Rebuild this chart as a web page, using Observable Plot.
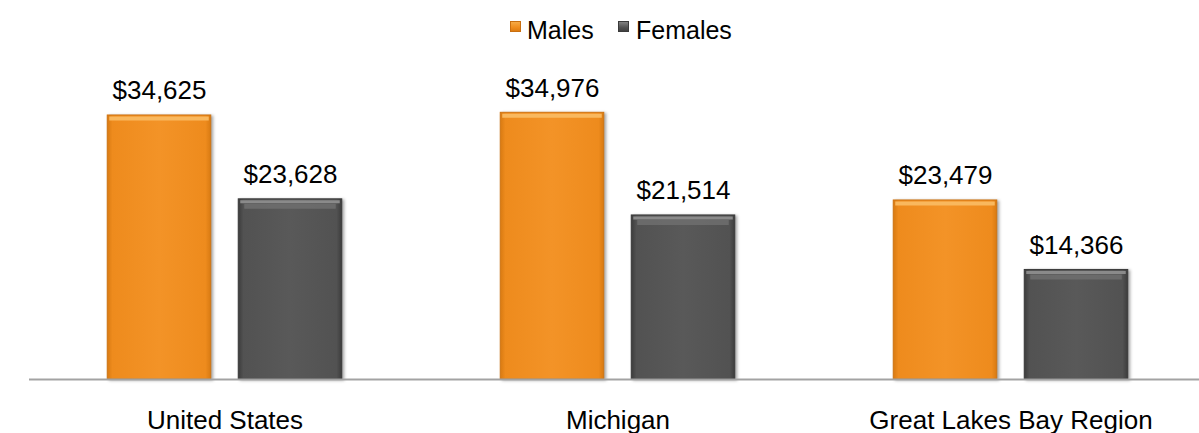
<!DOCTYPE html>
<html>
<head>
<meta charset="utf-8">
<script src="https://cdn.jsdelivr.net/npm/d3@7"></script>
<script src="https://cdn.jsdelivr.net/npm/@observablehq/plot@0.6"></script>
<style>
  body { margin: 0; background: #fff; font-family: "Liberation Sans", Arial, Helvetica, sans-serif; }
  #legend { position: relative; height: 50px; width: 1199px; }
  #legend .sw { position: absolute; width: 11px; height: 11px; top: 21px; }
  #legend .lb { position: absolute; top: 18px; font-size: 25px; line-height: 25px; color: #000; white-space: nowrap; }
  svg [aria-label="bar"] rect { filter: drop-shadow(2px 1px 1.5px rgba(0,0,0,0.35)); }
</style>
</head>
<body>
<div id="legend"></div>
<div id="chart"></div>
<script>
// ---- data ----
const regions = ["United States", "Michigan", "Great Lakes Bay Region"];
const seriesNames = ["Males", "Females"];
const males = [34625, 34976, 23479];
const females = [23628, 21514, 14366];

// ---- legend ----
const legendItems = [
  { name: seriesNames[0], sw: 510, lb: 527, bg: "linear-gradient(#f7b04e, #ef8c1c 60%, #d8780f)", border: "#c96f10" },
  { name: seriesNames[1], sw: 618, lb: 636, bg: "linear-gradient(#8a8a8a, #505050 60%, #3c3c3c)", border: "#3a3a3a" }
];
const legend = document.getElementById("legend");
for (const it of legendItems) {
  const s = document.createElement("div");
  s.className = "sw";
  s.style.left = it.sw + "px";
  s.style.background = it.bg;
  s.style.boxShadow = "inset 0 0 0 1px " + it.border;
  legend.appendChild(s);
  const t = document.createElement("div");
  t.className = "lb";
  t.style.left = it.lb + "px";
  t.textContent = it.name;
  legend.appendChild(t);
}

// ---- table built from arrays ----
const mData = regions.map((r, i) => ({ region: r, sex: seriesNames[0], value: males[i] }));
const fData = regions.map((r, i) => ({ region: r, sex: seriesNames[1], value: females[i] }));
const fmt = v => "$" + d3.format(",")(v);

function defs() {
  const g = d3.create("svg:defs");
  const addGrad = (id, stops) => {
    const lg = g.append("linearGradient").attr("id", id).attr("x1", 0).attr("x2", 1).attr("y1", 0).attr("y2", 0);
    for (const [o, c] of stops) lg.append("stop").attr("offset", o).attr("stop-color", c);
  };
  addGrad("gm", [[0, "#d87a12"], [0.05, "#ee8b1d"], [0.5, "#f39327"], [0.95, "#ee8b1d"], [1, "#d87a12"]]);
  addGrad("gf", [[0, "#3c3c3c"], [0.05, "#525252"], [0.5, "#595959"], [0.95, "#525252"], [1, "#3c3c3c"]]);
  return g.node();
}

const mInL = 79.25, mInR = 210.25, fInL = 210.25, fInR = 79.25;

const chart = Plot.plot({
  width: 1199,
  height: 383,
  marginTop: 24,
  marginBottom: 54,
  marginLeft: 29,
  marginRight: 0,
  style: { fontFamily: "Liberation Sans, Arial, Helvetica, sans-serif", color: "#000", overflow: "visible", background: "transparent" },
  x: { domain: regions, range: [26.75, 1207.25], padding: 0 },
  y: { domain: [0, 40000], axis: null },
  marks: [
    defs,
    Plot.barY(mData, { x: "region", y: "value", fill: "url(#gm)", stroke: "#cf7412", strokeWidth: 1, insetLeft: mInL, insetRight: mInR }),
    Plot.barY(fData, { x: "region", y: "value", fill: "url(#gf)", stroke: "#3a3a3a", strokeWidth: 1, insetLeft: fInL, insetRight: fInR }),
    Plot.tickY(mData, { x: "region", y: "value", stroke: "#f9b85e", strokeWidth: 4, dy: 3, insetLeft: mInL + 2, insetRight: mInR + 2 }),
    Plot.tickY(fData, { x: "region", y: "value", stroke: "#8a8a8a", strokeWidth: 3, dy: 2.5, insetLeft: fInL + 2, insetRight: fInR + 2 }),
    Plot.tickY(fData, { x: "region", y: "value", stroke: "#6e6e6e", strokeWidth: 5, dy: 7, insetLeft: fInL + 6, insetRight: fInR + 6, strokeOpacity: 0.85 }),
    Plot.ruleY([0], { stroke: "#a3a3a3", strokeWidth: 2 }),
    Plot.text(mData, { x: "region", y: "value", text: d => fmt(d.value), dx: -65.5, dy: -16, lineAnchor: "bottom", fontSize: 26, fill: "#000" }),
    Plot.text(fData, { x: "region", y: "value", text: d => fmt(d.value), dx: 65.5, dy: -16, lineAnchor: "bottom", fontSize: 26, fill: "#000" }),
    Plot.axisX({ tickSize: 0, tickPadding: 31, fontSize: 26, label: null, fill: "#000" })
  ]
});
document.getElementById("chart").appendChild(chart);
</script>
</body>
</html>
